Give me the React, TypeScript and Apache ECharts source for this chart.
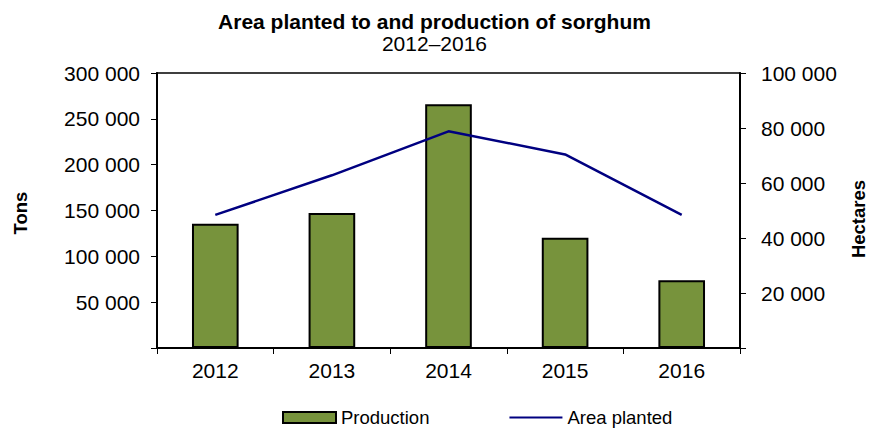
import React, { useEffect, useRef } from "react";
import * as echarts from "echarts";

const years = ["2012", "2013", "2014", "2015", "2016"];
const production = [135500, 147300, 266000, 120400, 73900];
const areaPlanted = [48400, 62800, 78800, 70400, 48400];

const FONT = "'Liberation Sans', Arial, sans-serif";

const fmt = (v: number) =>
  v === 0 ? "" : String(v).replace(/\B(?=(\d{3})+(?!\d))/g, " ");

export default function App() {
  const ref = useRef<HTMLDivElement>(null);
  useEffect(() => {
    if (!ref.current) return;
    const chart = echarts.init(ref.current, null, { renderer: "svg" });
    chart.setOption({
      animation: false,
      backgroundColor: "#ffffff",
      title: {
        text: "Area planted to and production of sorghum",
        subtext: "2012–2016",
        left: "center",
        top: 6,
        itemGap: 1,
        textStyle: { fontFamily: FONT, fontSize: 21, fontWeight: "bold", color: "#000" },
        subtextStyle: { fontFamily: FONT, fontSize: 21, color: "#000" },
      },
      legend: {
        left: 277,
        top: 403,
        itemWidth: 53,
        itemHeight: 11,
        itemGap: 79,
        textStyle: { fontFamily: FONT, fontSize: 18.5, color: "#000" },
        data: [
          { name: "Production", icon: "rect" },
          { name: "Area planted", itemStyle: { opacity: 0 } },
        ],
      },
      grid: {
        left: 157,
        right: 129,
        top: 73,
        bottom: 80,
        show: true,
        borderColor: "#000",
        borderWidth: 1.5,
      },
      xAxis: {
        type: "category",
        data: years,
        boundaryGap: true,
        axisLine: { lineStyle: { color: "#000", width: 2 } },
        axisTick: { show: true, alignWithLabel: false, length: 6, lineStyle: { color: "#000", width: 1 } },
        axisLabel: { fontFamily: FONT, fontSize: 21, color: "#000", margin: 12 },
        splitLine: { show: false },
      },
      yAxis: [
        {
          type: "value",
          min: 0,
          max: 300000,
          interval: 50000,
          position: "left",
          axisLine: { show: true, lineStyle: { color: "#000", width: 2 } },
          axisTick: { show: true, length: 6, lineStyle: { color: "#000", width: 1 } },
          axisLabel: { fontFamily: FONT, fontSize: 21, color: "#000", margin: 17, formatter: fmt },
          splitLine: { show: false },
        },
        {
          type: "value",
          min: 0,
          max: 100000,
          interval: 20000,
          position: "right",
          axisLine: { show: true, lineStyle: { color: "#000", width: 2 } },
          axisTick: { show: true, length: 6, lineStyle: { color: "#000", width: 1 } },
          axisLabel: { fontFamily: FONT, fontSize: 21, color: "#000", margin: 21, formatter: fmt },
          splitLine: { show: false },
        },
      ],
      series: [
        {
          name: "Production",
          type: "bar",
          yAxisIndex: 0,
          data: production,
          barWidth: "40%",
          itemStyle: { color: "#77933C", borderColor: "#000", borderWidth: 2 },
        },
        {
          name: "Area planted",
          type: "line",
          yAxisIndex: 1,
          data: areaPlanted,
          symbol: "none",
          lineStyle: { color: "#000080", width: 2.5 },
          itemStyle: { color: "#000080" },
        },
      ],
      graphic: [
        {
          type: "text",
          x: 20,
          y: 213,
          rotation: Math.PI / 2,
          style: {
            text: "Tons",
            align: "center",
            verticalAlign: "middle",
            fontFamily: FONT,
            fontSize: 18.5,
            fontWeight: "bold",
            fill: "#000",
          },
        },
        {
          type: "text",
          x: 858,
          y: 219,
          rotation: Math.PI / 2,
          style: {
            text: "Hectares",
            align: "center",
            verticalAlign: "middle",
            fontFamily: FONT,
            fontSize: 18.5,
            fontWeight: "bold",
            fill: "#000",
          },
        },
      ],
    });
    return () => chart.dispose();
  }, []);
  return (
    <div
      ref={ref}
      style={{ position: "fixed", left: 0, top: 0, width: 869, height: 428 }}
    />
  );
}
